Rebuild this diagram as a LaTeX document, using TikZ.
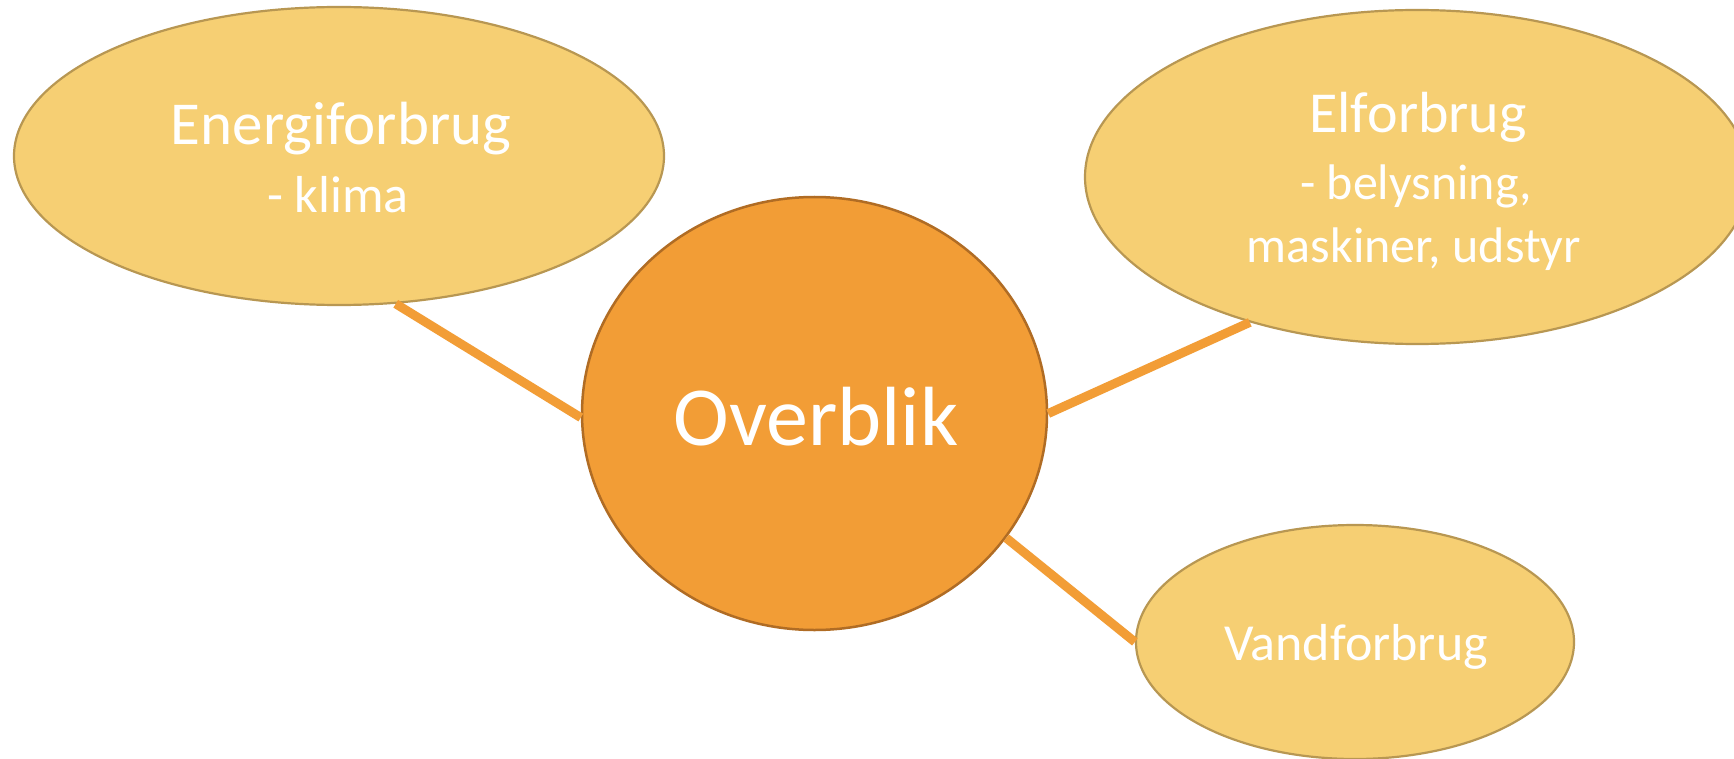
\documentclass[tikz,border=0pt]{standalone}
\usepackage{fontspec}
\setmainfont{Carlito}
\usetikzlibrary{shapes.geometric}
\definecolor{hubfill}{RGB}{242,157,54}
\definecolor{hubdraw}{RGB}{176,108,36}
\definecolor{satfill}{RGB}{246,207,115}
\definecolor{satdraw}{RGB}{184,151,82}
\definecolor{connclr}{RGB}{242,157,54}
\tikzset{
  sat/.style={ellipse, draw=satdraw, fill=satfill, line width=2.2pt, inner sep=0pt},
  hub/.style={ellipse, draw=hubdraw, fill=hubfill, line width=2.5pt, inner sep=0pt},
  conn/.style={draw=connclr, line width=9pt, line cap=butt},
  txt/.style={text=white, inner sep=0pt, anchor=base},
}
\begin{document}
\begin{tikzpicture}[x=1pt,y=-1pt]
\fill[white] (0,0) rectangle (1734,759);
\useasboundingbox (0,0) rectangle (1734,759);
\clip (0,0) rectangle (1734,759);
% ellipses
\node[sat, minimum width=650pt, minimum height=298pt] (energi) at (339,156) {};
\node[sat, minimum width=664pt, minimum height=334pt] (el) at (1417,177) {};
\node[sat, minimum width=438pt, minimum height=234pt] (vand) at (1355,642) {};
\node[hub, minimum width=465pt, minimum height=433pt] (hub) at (814.5,413.5) {};
% connectors
\draw[conn] (energi.-69) -- (hub.181);
\draw[conn] (hub.0) -- (el.221);
\draw[conn] (hub.-33) -- (vand.180);
% texts
\node[txt, font=\fontsize{61}{70}\selectfont] (tEnergi) at (341,145) {Energiforbrug};
\node[txt, font=\fontsize{52}{60}\selectfont] (tKlima) at (338,213) {- klima};
\node[txt, font=\fontsize{84}{96}\selectfont] (tHub) at (816,445) {Overblik};
\node[txt, font=\fontsize{58}{66}\selectfont] (tEl1) at (1418,133) {Elforbrug};
\node[txt, font=\fontsize{50}{58}\selectfont] (tEl2) at (1416,200) {- belysning,};
\node[txt, font=\fontsize{50}{58}\selectfont] (tEl3) at (1414,263) {maskiner, udstyr};
\node[txt, font=\fontsize{52}{60}\selectfont] (tVand) at (1356,660) {Vandforbrug};
\end{tikzpicture}
\end{document}
